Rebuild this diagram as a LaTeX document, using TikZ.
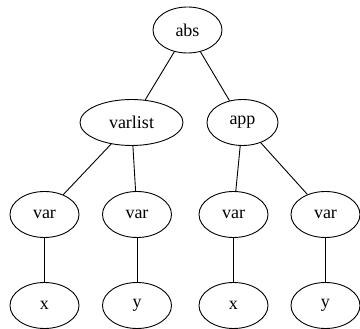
\documentclass[tikz,border=0pt]{standalone}
\usepackage{fontspec}
\setmainfont{Liberation Serif}
\usetikzlibrary{shapes.geometric}
\begin{document}
\begin{tikzpicture}[x=1pt, y=-1pt, font=\fontsize{18}{20}\selectfont, line width=0.9pt]
      \tikzset{tnode/.style={draw, ellipse, inner sep=0pt, minimum width=69pt, minimum height=46pt}}
      \useasboundingbox (0,0) rectangle (360,329);
      % levels
      \node[tnode] (abs) at (187.5,30) {abs};
      \node[tnode, minimum width=103pt] (varlist) at (131.5,122.5) {varlist};
      \node[tnode, minimum width=71pt] (app) at (242.5,122.5) {app};
      \node[tnode] (var1) at (44.5,214.5) {var};
      \node[tnode] (var2) at (137,214.5) {var};
      \node[tnode] (var3) at (233.5,214.5) {var};
      \node[tnode] (var4) at (325.5,214.5) {var};
      \node[tnode] (x1) at (44.5,305.5) {x};
      \node[tnode] (y1) at (137,305.5) {y};
      \node[tnode] (x2) at (233.5,305.5) {x};
      \node[tnode] (y2) at (325.5,305.5) {y};
      \draw (abs) -- (varlist);
      \draw (abs) -- (app);
      \draw (varlist) -- (var1);
      \draw (varlist) -- (var2);
      \draw (app) -- (var3);
      \draw (app) -- (var4);
      \draw (var1) -- (x1);
      \draw (var2) -- (y1);
      \draw (var3) -- (x2);
      \draw (var4) -- (y2);
    \end{tikzpicture}
\end{document}
